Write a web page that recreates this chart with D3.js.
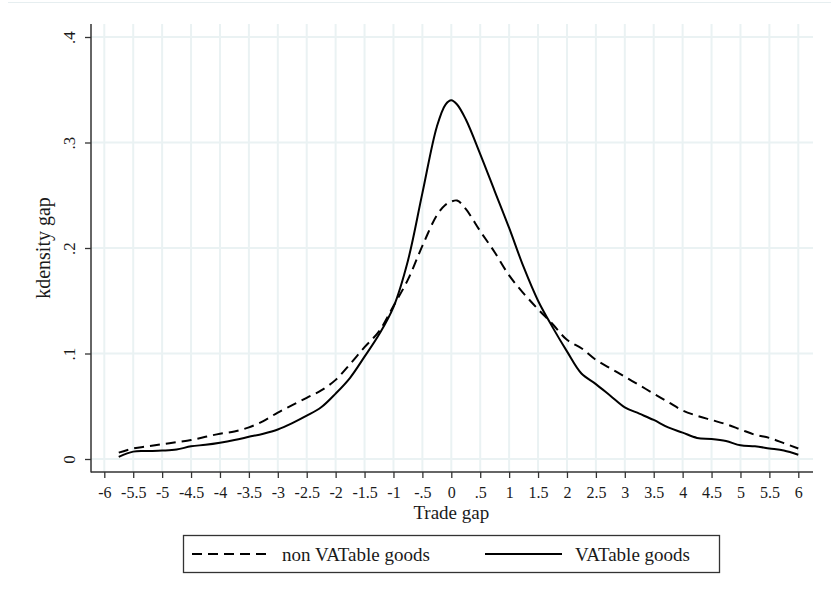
<!DOCTYPE html>
<html>
<head>
<meta charset="utf-8">
<script src="https://cdn.jsdelivr.net/npm/d3@7"></script>
<style>
  body { margin: 0; background: #fff; }
  text { font-family: "Liberation Serif", "Times New Roman", serif; fill: #1a1a1a; }
</style>
</head>
<body>
<div id="chart"></div>
<script>
// kdensity estimates
var gapX = [-5.75, -5.5, -5.25, -5, -4.75, -4.5, -4.25, -4, -3.75, -3.5, -3.25, -3, -2.75, -2.5, -2.25, -2,
    -1.75, -1.5, -1.25, -1, -0.75, -0.5, -0.25, -0.1, 0, 0.1, 0.25, 0.5, 0.75, 1, 1.25, 1.5, 1.75, 2,
    2.25, 2.5, 2.75, 3, 3.25, 3.5, 3.75, 4, 4.25, 4.5, 4.75, 5, 5.25, 5.5, 5.75, 6];

var vatable = [0.002, 0.007, 0.0075, 0.008, 0.009, 0.012, 0.0135, 0.0155, 0.018, 0.021, 0.024, 0.028, 0.034, 0.041, 0.049, 0.062,
    0.077, 0.097, 0.118, 0.144, 0.188, 0.252, 0.315, 0.336, 0.340, 0.336, 0.322, 0.289, 0.254, 0.219, 0.182, 0.150, 0.125, 0.102,
    0.081, 0.071, 0.060, 0.049, 0.043, 0.037, 0.030, 0.025, 0.020, 0.019, 0.017, 0.013, 0.012, 0.010, 0.008, 0.004];

var nonVatable = [0.006, 0.010, 0.012, 0.014, 0.016, 0.018, 0.021, 0.024, 0.026, 0.030, 0.036, 0.044, 0.051, 0.058, 0.065, 0.075,
    0.090, 0.106, 0.121, 0.145, 0.170, 0.202, 0.231, 0.241, 0.244, 0.245, 0.237, 0.216, 0.196, 0.174, 0.157, 0.142, 0.128, 0.113,
    0.105, 0.094, 0.086, 0.078, 0.070, 0.062, 0.054, 0.046, 0.041, 0.037, 0.033, 0.028, 0.023, 0.020, 0.015, 0.010];

var xTicks = [-6, -5.5, -5, -4.5, -4, -3.5, -3, -2.5, -2, -1.5, -1, -0.5, 0, 0.5, 1, 1.5, 2, 2.5, 3, 3.5, 4, 4.5, 5, 5.5, 6];
var yTicks = [0, 0.1, 0.2, 0.3, 0.4];
var seriesNames = ["non VATable goods", "VATable goods"];

var width = 831, height = 600;
var plot = { left: 91, right: 813, top: 24, bottom: 472 };

var svg = d3.select("#chart").append("svg")
    .attr("width", width)
    .attr("height", height);

// faint outer border at the top
svg.append("line")
    .attr("x1", 8).attr("x2", width)
    .attr("y1", 2.5).attr("y2", 2.5)
    .attr("stroke", "#e6eef0").attr("stroke-width", 1);

var xScale = d3.scaleLinear().domain([-6, 6]).range([104.3, 798.3]);
var yScale = d3.scaleLinear().domain([0, 0.4]).range([459, 37]);

// Stata style labels: plain hyphen, no leading zero
function fmt(v) {
    return String(v).replace(/^0\./, ".").replace(/^-0\./, "-.");
}

// grid
var grid = svg.append("g").attr("stroke", "#eaf2f3").attr("stroke-width", 2);
grid.selectAll("line.v").data(xTicks).enter().append("line")
    .attr("class", "v")
    .attr("x1", d => xScale(d)).attr("x2", d => xScale(d))
    .attr("y1", plot.top).attr("y2", plot.bottom);
grid.selectAll("line.h").data(yTicks).enter().append("line")
    .attr("class", "h")
    .attr("x1", plot.left).attr("x2", plot.right)
    .attr("y1", d => yScale(d)).attr("y2", d => yScale(d));

// axes
var xAxis = d3.axisBottom(xScale).tickValues(xTicks).tickSize(6).tickSizeOuter(0).tickFormat(fmt);
var yAxis = d3.axisLeft(yScale).tickValues(yTicks).tickSize(6).tickSizeOuter(0).tickFormat(fmt);

var gx = svg.append("g")
    .attr("transform", `translate(0, ${plot.bottom})`)
    .call(xAxis);
gx.select(".domain").remove();
gx.selectAll(".tick line").attr("stroke", "#333").attr("stroke-width", 1.3);
gx.selectAll(".tick text")
    .attr("y", 26).attr("dy", null)
    .style("font-size", "16px")
    .style("font-family", "Liberation Serif");

var gy = svg.append("g")
    .attr("transform", `translate(${plot.left}, 0)`)
    .call(yAxis);
gy.select(".domain").remove();
gy.selectAll(".tick line").attr("stroke", "#333").attr("stroke-width", 1.3);
gy.selectAll(".tick text")
    .attr("x", null).attr("dy", null)
    .attr("text-anchor", "middle")
    .attr("transform", "translate(-16, 0) rotate(-90)")
    .style("font-size", "17px")
    .style("font-family", "Liberation Serif");

// axis lines
svg.append("line")
    .attr("x1", plot.left).attr("x2", plot.left)
    .attr("y1", plot.top).attr("y2", plot.bottom + 0.5)
    .attr("stroke", "#333").attr("stroke-width", 1.5);
svg.append("line")
    .attr("x1", plot.left).attr("x2", plot.right)
    .attr("y1", plot.bottom).attr("y2", plot.bottom)
    .attr("stroke", "#333").attr("stroke-width", 1.5);

// titles
svg.append("text")
    .attr("x", (xScale(-6) + xScale(6)) / 2)
    .attr("y", 519)
    .attr("text-anchor", "middle")
    .style("font-size", "19px")
    .text("Trade gap");

svg.append("text")
    .attr("transform", `translate(50, ${(plot.top + plot.bottom) / 2}) rotate(-90)`)
    .attr("text-anchor", "middle")
    .style("font-size", "20px")
    .text("kdensity gap");

// density curves
var line = d3.line()
    .x((d, i) => xScale(gapX[i]))
    .y(d => yScale(d))
    .curve(d3.curveCatmullRom);

svg.append("path")
    .datum(nonVatable)
    .attr("d", line)
    .attr("fill", "none")
    .attr("stroke", "#000")
    .attr("stroke-width", 2)
    .attr("stroke-dasharray", "10,6");

svg.append("path")
    .datum(vatable)
    .attr("d", line)
    .attr("fill", "none")
    .attr("stroke", "#000")
    .attr("stroke-width", 2);

// legend
var legend = svg.append("g");
legend.append("rect")
    .attr("x", 183.5).attr("y", 535.5)
    .attr("width", 536).attr("height", 37)
    .attr("fill", "#fff")
    .attr("stroke", "#333").attr("stroke-width", 1.3);

legend.append("line")
    .attr("x1", 192).attr("x2", 269)
    .attr("y1", 554).attr("y2", 554)
    .attr("stroke", "#000").attr("stroke-width", 2)
    .attr("stroke-dasharray", "10,6");
legend.append("text")
    .attr("x", 282).attr("y", 561)
    .style("font-size", "19px")
    .text(seriesNames[0]);

legend.append("line")
    .attr("x1", 485).attr("x2", 562)
    .attr("y1", 554).attr("y2", 554)
    .attr("stroke", "#000").attr("stroke-width", 2);
legend.append("text")
    .attr("x", 575).attr("y", 561)
    .style("font-size", "19px")
    .text(seriesNames[1]);
</script>
</body>
</html>
